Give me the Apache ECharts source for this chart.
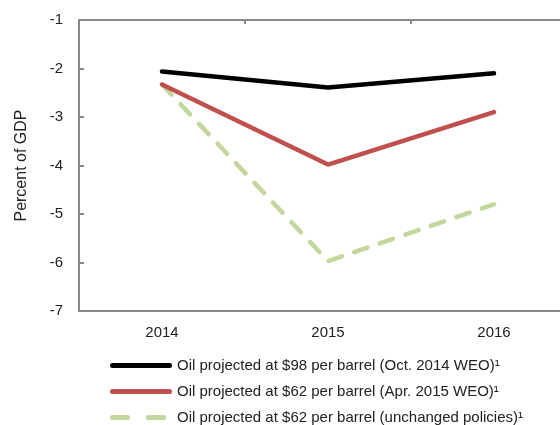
<!DOCTYPE html>
<html>
<head>
<meta charset="utf-8">
<script src="https://cdn.jsdelivr.net/npm/echarts@6/dist/echarts.min.js"></script>
<style>
  html, body { margin: 0; padding: 0; background: #fff; }
  #chart { width: 560px; height: 425px; }
</style>
</head>
<body>
<div id="chart"></div>
<script>
const years = ['2014', '2015', '2016']
const oil98 = [-2.06, -2.39, -2.10]
const oil62 = [-2.33, -3.98, -2.90]
const oil62Unchanged = [-2.33, -5.97, -4.80]
const names = [
  'Oil projected at $98 per barrel (Oct. 2014 WEO)¹',
  'Oil projected at $62 per barrel (Apr. 2015 WEO)¹',
  'Oil projected at $62 per barrel (unchanged policies)¹',
]

const chart = echarts.init(document.getElementById('chart'))
const axisColor = '#888'
const font = 'Liberation Sans, Arial, sans-serif'
// legend icons drawn as paths so the dashed one looks like the reference
const solidIcon = 'path://M2.5,0h57a2.5,2.5 0 0 1 0,5h-57a2.5,2.5 0 0 1 0,-5z'
const dashIcon = 'path://M2.5,0h15a2.5,2.5 0 0 1 0,5h-15a2.5,2.5 0 0 1 0,-5z M38.5,0h15a2.5,2.5 0 0 1 0,5h-15a2.5,2.5 0 0 1 0,-5z M62,0h0v5h0z'

const option = {
  animation: false,
  grid: {
    left: 79,
    right: -17,
    top: 20,
    bottom: 114,
    outerBoundsMode: 'none',
  },
  legend: {
    orient: 'vertical',
    left: 110,
    top: 358,
    padding: 0,
    itemWidth: 62,
    itemHeight: 5,
    itemGap: 11,
    textStyle: {
      fontFamily: font,
      fontSize: 15,
      color: '#222',
      padding: [0, 0, 0, 0],
    },
    data: [
      {name: names[0], icon: solidIcon},
      {name: names[1], icon: solidIcon},
      {name: names[2], icon: dashIcon},
    ],
  },
  xAxis: [
    {
      type: 'category',
      data: years,
      position: 'bottom',
      axisLine: {lineStyle: {color: axisColor, width: 2}},
      axisTick: {show: false},
      axisLabel: {color: '#222', fontSize: 15, fontFamily: font, margin: 14},
    },
    {
      type: 'category',
      data: years,
      position: 'top',
      axisLine: {lineStyle: {color: axisColor, width: 2}},
      axisTick: {show: true, inside: true, length: 4, lineStyle: {color: axisColor, width: 2}},
      axisLabel: {show: false},
    },
  ],
  yAxis: {
    type: 'value',
    min: -7,
    max: -1,
    interval: 1,
    name: 'Percent of GDP',
    nameLocation: 'middle',
    nameGap: 49,
    nameTextStyle: {fontFamily: font, fontSize: 16, color: '#222'},
    axisLine: {show: true, lineStyle: {color: axisColor, width: 2}},
    axisTick: {show: true, inside: true, length: 5, lineStyle: {color: axisColor, width: 2}},
    axisLabel: {color: '#222', fontSize: 15, fontFamily: font, margin: 16},
    splitLine: {show: false},
  },
  series: [
    {
      name: names[0],
      type: 'line',
      data: oil98,
      symbol: 'none',
      z: 4,
      itemStyle: {color: '#000'},
      lineStyle: {color: '#000', width: 4.5, cap: 'round'},
    },
    {
      name: names[1],
      type: 'line',
      data: oil62,
      symbol: 'none',
      z: 3,
      itemStyle: {color: '#c0504d'},
      lineStyle: {color: '#c0504d', width: 4.5, cap: 'round'},
    },
    {
      name: names[2],
      type: 'line',
      data: oil62Unchanged,
      symbol: 'none',
      z: 2,
      itemStyle: {color: '#c3d69b'},
      lineStyle: {color: '#c3d69b', width: 4.5, type: [14, 13], cap: 'round'},
    },
  ],
}

option && chart.setOption(option)
</script>
</body>
</html>
